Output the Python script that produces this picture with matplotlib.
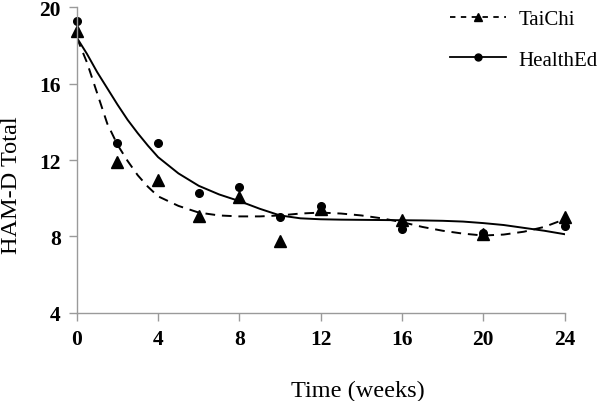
import numpy as np
import matplotlib
matplotlib.use('Agg')
import matplotlib.pyplot as plt
from matplotlib.lines import Line2D

# Data
weeks = [0, 2, 4, 6, 8, 10, 12, 16, 20, 24]
taichi = [18.75, 11.9, 10.95, 9.05, 10.05, 7.75, 9.45, 8.85, 8.15, 9.0]
healthed = [19.25, 12.9, 12.9, 10.25, 10.6, 9.0, 9.6, 8.4, 8.2, 8.55]

# fitted trend curves
curve_weeks = [0, 0.5, 1, 1.5, 2, 2.5, 3, 3.5, 4, 5, 6, 7, 8, 9, 10, 11, 12,
               13, 14, 15, 16, 17, 18, 19, 20, 21, 22, 23, 24]
taichi_fit = [18.4, 17.1, 15.5, 13.9, 12.8, 11.95, 11.2, 10.6, 10.1, 9.6,
              9.25, 9.1, 9.05, 9.05, 9.1, 9.2, 9.25, 9.2, 9.1, 8.95, 8.75,
              8.5, 8.3, 8.15, 8.05, 8.1, 8.25, 8.5, 8.9]
healthed_fit = [18.4, 17.55, 16.6, 15.75, 14.9, 14.1, 13.4, 12.75, 12.15,
                11.3, 10.65, 10.2, 9.85, 9.45, 9.1, 8.95, 8.9, 8.88, 8.87,
                8.86, 8.85, 8.84, 8.82, 8.78, 8.7, 8.6, 8.45, 8.3, 8.12]

x_ticks = [0, 4, 8, 12, 16, 20, 24]
y_ticks = [4, 8, 12, 16, 20]

plt.rcParams['font.family'] = ['Liberation Serif', 'DejaVu Serif']

fig = plt.figure(figsize=(6, 4.02), dpi=100)
ax = fig.add_axes([0.128, 0.219, 0.813, 0.761])

ax.plot(curve_weeks, taichi_fit, color='black', linestyle=(0, (5, 3.5)),
        linewidth=1.4)
ax.plot(curve_weeks, healthed_fit, color='black', linestyle='-', linewidth=1.4)
ax.plot(weeks, healthed, 'o', color='black', markersize=5.5, clip_on=False)
ax.plot(weeks, taichi, '^', color='black', markersize=8, clip_on=False)

ax.set_xlim(0, 24)
ax.set_ylim(4, 20)
ax.set_xticks(x_ticks)
ax.set_yticks(y_ticks)
for lbl in ax.get_xticklabels() + ax.get_yticklabels():
    lbl.set_fontweight('bold')
    lbl.set_fontsize(15.5)

gray = '#9a9a9a'
for s in ['top', 'right']:
    ax.spines[s].set_visible(False)
for s in ['left', 'bottom']:
    ax.spines[s].set_color(gray)
    ax.spines[s].set_linewidth(1)
ax.tick_params(direction='out', length=5.5, width=1, color=gray, pad=6)

ax.set_xlabel('Time (weeks)', fontsize=17.5)
ax.xaxis.set_label_coords(0.576, -0.218)
ax.set_ylabel('HAM-D Total', fontsize=17.5)
ax.yaxis.set_label_coords(-0.112, 0.42)

handles = [
    Line2D([], [], color='black', linestyle=(0, (3, 3)), linewidth=1.3,
           marker='^', markersize=6),
    Line2D([], [], color='black', linestyle='-', linewidth=1.3,
           marker='o', markersize=5),
]
fig.legend(handles, ['TaiChi', 'HealthEd'], loc='upper left',
           bbox_to_anchor=(0.718, 1.02), frameon=False, fontsize=15,
           handlelength=2.7, handletextpad=0.6, labelspacing=1.0,
           borderpad=0.4)

plt.savefig('out.png', dpi=100)
